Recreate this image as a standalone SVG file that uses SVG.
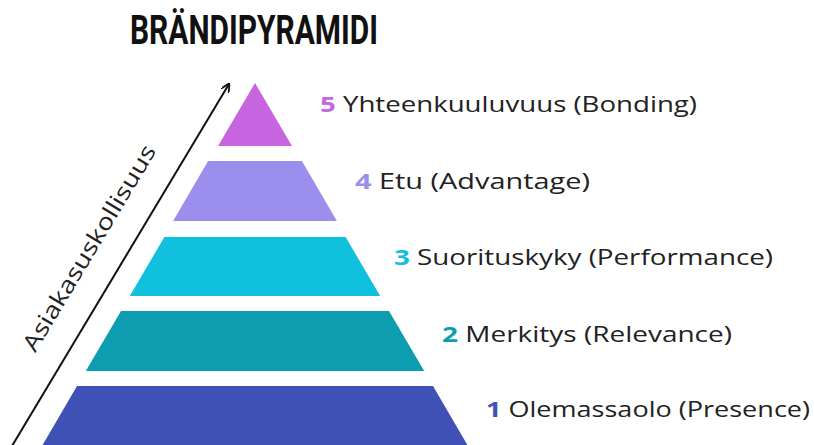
<svg xmlns="http://www.w3.org/2000/svg" width="814" height="445" viewBox="0 0 814 445">
<defs>
<marker id="ah" viewBox="0 0 10 10" refX="9" refY="5" markerWidth="9" markerHeight="9" markerUnits="userSpaceOnUse" orient="auto">
<path d="M0,0 L10,5 L0,10" fill="none" stroke="#111" stroke-width="2"/>
</marker>
<style>
.lbl{font-family:"Open Sans","Liberation Sans",sans-serif;font-size:21px;fill:#222;}
.num{font-weight:bold;}
.title{font-family:Roboto,"Liberation Sans",sans-serif;font-weight:bold;font-size:41px;fill:#111;}
</style>
</defs>
<rect width="814" height="445" fill="#fff"/>
<text class="title" x="130" y="44" textLength="248" lengthAdjust="spacingAndGlyphs">BRÄNDIPYRAMIDI</text>
<g id="connectors">
<line x1="12" y1="446" x2="229" y2="84" stroke="#111" stroke-width="2" marker-end="url(#ah)"/>
</g>
<text class="lbl" x="0" y="0" style="font-size:23px" transform="translate(96,252) rotate(-59)" text-anchor="middle" textLength="236" lengthAdjust="spacingAndGlyphs">Asiakasuskollisuus</text>
<g id="level5"><polygon points="255,83 292,146 218,146" fill="#c665df"/>
<text class="lbl" x="320" y="112" textLength="377" lengthAdjust="spacingAndGlyphs"><tspan class="num" fill="#c665df">5</tspan> Yhteenkuuluvuus (Bonding)</text></g>
<g id="level4"><polygon points="208.1,161 301.9,161 336.9,221 173.1,221" fill="#9b8eec"/>
<text class="lbl" x="355" y="189" textLength="235" lengthAdjust="spacingAndGlyphs"><tspan class="num" fill="#9b8eec">4</tspan> Etu (Advantage)</text></g>
<g id="level3"><polygon points="164.4,237 345.6,237 380.2,296 129.8,296" fill="#10c0dd"/>
<text class="lbl" x="394" y="265" textLength="379" lengthAdjust="spacingAndGlyphs"><tspan class="num" fill="#10c0dd">3</tspan> Suorituskyky (Performance)</text></g>
<g id="level2"><polygon points="121.0,311 389.0,311 424.2,371 85.8,371" fill="#0d9db0"/>
<text class="lbl" x="442" y="342" textLength="290" lengthAdjust="spacingAndGlyphs"><tspan class="num" fill="#0d9db0">2</tspan> Merkitys (Relevance)</text></g>
<g id="level1"><polygon points="77.0,386 433.0,386 468,446 42,446" fill="#3f51b5"/>
<text class="lbl" x="486" y="417" textLength="324" lengthAdjust="spacingAndGlyphs"><tspan class="num" fill="#3f51b5">1</tspan> Olemassaolo (Presence)</text></g>
</svg>
